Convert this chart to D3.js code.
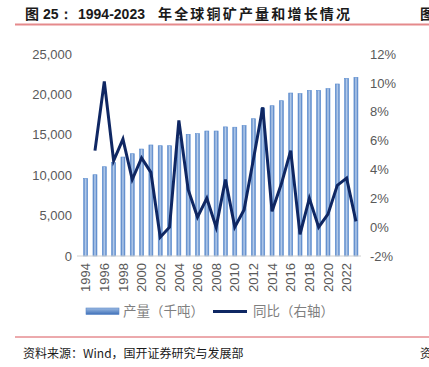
<!DOCTYPE html>
<html>
<head>
<meta charset="utf-8">
<script src="https://cdn.jsdelivr.net/npm/d3@7"></script>
<style>
  body { margin: 0; background: #fff; }
  svg { display: block; }
</style>
</head>
<body>
<svg></svg>
<script>
let width = 429, height = 367;

// data
let years = d3.range(1994, 2024);
let production = [9600, 10060, 11050, 11550, 12250, 12660, 13240, 13740, 13650, 13650,
                  14650, 15060, 15140, 15470, 15470, 15980, 15940, 16150, 16990, 18300,
                  18600, 19220, 20170, 20090, 20500, 20500, 20710, 21290, 21990, 22110];
let growth = [null, 5.3, 10.1, 4.6, 6.1, 3.3, 4.8, 3.8, -0.7, 0.0,
              7.4, 2.6, 0.7, 2.0, 0.0, 3.3, 0.0, 1.2, 4.7, 8.3,
              1.1, 3.0, 5.3, -0.5, 2.0, 0.0, 0.9, 2.9, 3.4, 0.4];
let leftTicks = [0, 5000, 10000, 15000, 20000, 25000];
let rightTicks = [-2, 0, 2, 4, 6, 8, 10, 12];
let yearLabels = years.filter(y => (y - 1994) % 2 == 0);

let svg = d3.select("svg")
    .attr("width", width)
    .attr("height", height);

let defs = svg.append("defs");
let grad = defs.append("linearGradient").attr("id", "barGrad")
    .attr("x1", "0").attr("x2", "1").attr("y1", "0").attr("y2", "0");
grad.append("stop").attr("offset", "0%").attr("stop-color", "#4a7bc2");
grad.append("stop").attr("offset", "50%").attr("stop-color", "#b9cfec");
grad.append("stop").attr("offset", "100%").attr("stop-color", "#4a7bc2");
let legGrad = defs.append("linearGradient").attr("id", "legGrad")
    .attr("x1", "0").attr("x2", "0").attr("y1", "0").attr("y2", "1");
legGrad.append("stop").attr("offset", "0%").attr("stop-color", "#9dbbe3");
legGrad.append("stop").attr("offset", "100%").attr("stop-color", "#3f70b8");

// title
let title = svg.append("text")
    .attr("y", 19)
    .attr("fill", "#1a1a1a");
title.append("tspan").attr("x", 25)
    .style("font", "bold 14px 'Noto Sans CJK SC'")
    .text("图");
title.append("tspan").attr("x", 43)
    .style("font", "bold 14px 'Liberation Sans', Arial")
    .text("25：");
title.append("tspan").attr("x", 78)
    .style("font", "bold 14px 'Liberation Sans', Arial")
    .text("1994-2023");
svg.append("text")
    .attr("x", 158).attr("y", 19)
    .attr("textLength", 192).attr("lengthAdjust", "spacing")
    .style("font", "bold 14px 'Noto Sans CJK SC'")
    .attr("fill", "#1a1a1a")
    .text("年全球铜矿产量和增长情况");
svg.append("text")
    .attr("x", 420).attr("y", 19)
    .style("font", "bold 14px 'Noto Sans CJK SC'")
    .attr("fill", "#1a1a1a")
    .text("图");

svg.append("line")
    .attr("x1", 15).attr("x2", width).attr("y1", 24.5).attr("y2", 24.5)
    .attr("stroke", "#e58a8c").attr("stroke-width", 2);

// scales
let x = d3.scalePoint().domain(years).range([81, 360.6]).padding(0.5);
let yL = d3.scaleLinear().domain([0, 25000]).range([256, 54]);
let yR = d3.scaleLinear().domain([-2, 12]).range([256, 54]);

// left axis
let leftAxis = svg.append("g")
    .attr("transform", "translate(72,0)")
    .call(d3.axisLeft(yL).tickValues(leftTicks).tickSize(0).tickPadding(0));
leftAxis.select(".domain").remove();
leftAxis.selectAll("text")
    .style("font", "13px 'Liberation Sans', Arial")
    .attr("fill", "#595959");

// right axis
let rightAxis = svg.append("g")
    .attr("transform", "translate(370,0)")
    .call(d3.axisRight(yR).tickValues(rightTicks).tickSize(0).tickPadding(0)
        .tickFormat(d => d + "%"));
rightAxis.select(".domain").remove();
rightAxis.selectAll("text")
    .style("font", "13px 'Liberation Sans', Arial")
    .attr("fill", "#595959");

// bars
let bw = 4;
svg.append("g")
    .selectAll("rect")
    .data(production)
    .enter()
    .append("rect")
    .attr("x", (d, i) => x(years[i]) - bw / 2)
    .attr("y", d => yL(d))
    .attr("width", bw)
    .attr("height", d => yL(0) - yL(d))
    .attr("fill", "url(#barGrad)")
    .attr("stroke", "#5f8fd0")
    .attr("stroke-width", 0.6);

// x axis line
svg.append("line")
    .attr("x1", 77).attr("x2", 361)
    .attr("y1", 256).attr("y2", 256)
    .attr("stroke", "#d0d0d0").attr("stroke-width", 1);

// x labels
svg.append("g")
    .selectAll("text")
    .data(yearLabels)
    .enter()
    .append("text")
    .attr("transform", d => "translate(" + x(d) + ",263) rotate(-90)")
    .attr("text-anchor", "end")
    .attr("dy", "0.36em")
    .style("font", "13px 'Liberation Sans', Arial")
    .attr("fill", "#595959")
    .text(d => d);

// growth line
let line = d3.line()
    .defined(d => d != null)
    .x((d, i) => x(years[i]))
    .y(d => yR(d));
svg.append("path")
    .datum(growth)
    .attr("d", line)
    .attr("fill", "none")
    .attr("stroke", "#0f2763")
    .attr("stroke-width", 3)
    .attr("stroke-linejoin", "miter");

// legend
svg.append("rect")
    .attr("x", 86).attr("y", 308).attr("width", 33).attr("height", 6.5)
    .attr("fill", "url(#legGrad)")
    .attr("stroke", "#5a88c8").attr("stroke-width", 0.6);
svg.append("text")
    .attr("x", 123).attr("y", 316)
    .style("font", "13.5px 'Noto Sans CJK SC'")
    .attr("fill", "#7f7f7f")
    .text("产量（千吨）");
svg.append("line")
    .attr("x1", 213).attr("x2", 247).attr("y1", 311.5).attr("y2", 311.5)
    .attr("stroke", "#0f2763").attr("stroke-width", 3);
svg.append("text")
    .attr("x", 253).attr("y", 316)
    .style("font", "13.5px 'Noto Sans CJK SC'")
    .attr("fill", "#7f7f7f")
    .text("同比（右轴）");

// footer
svg.append("line")
    .attr("x1", 15).attr("x2", width).attr("y1", 337).attr("y2", 337)
    .attr("stroke", "#d9545a").attr("stroke-width", 1);
svg.append("text")
    .attr("x", 23).attr("y", 358)
    .style("font", "12px 'Noto Sans CJK SC'")
    .attr("fill", "#1a1a1a")
    .text("资料来源：Wind，国开证券研究与发展部");
svg.append("text")
    .attr("x", 420).attr("y", 358)
    .style("font", "12px 'Noto Sans CJK SC'")
    .attr("fill", "#1a1a1a")
    .text("资");
</script>
</body>
</html>
